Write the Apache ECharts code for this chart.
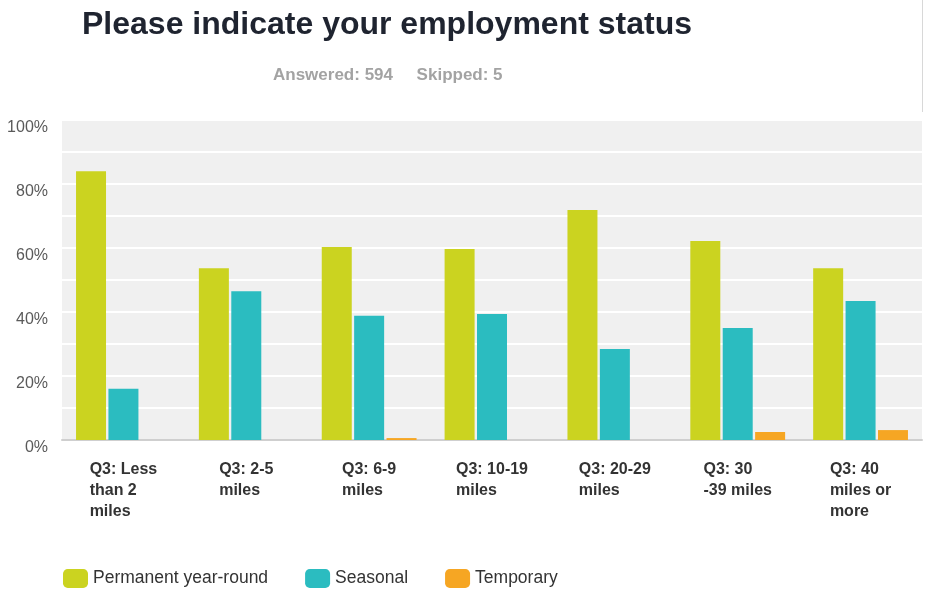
<!DOCTYPE html>
<html><head><meta charset="utf-8">
<script src="https://cdn.jsdelivr.net/npm/echarts@6/dist/echarts.min.js"></script>
<style>html,body{margin:0;padding:0;background:#fff;}#c{width:926px;height:593px;}</style>
</head><body><div id="c"></div>
<script>
const categories = [
  ['Q3: Less', 'than 2', 'miles'],
  ['Q3: 2-5', 'miles'],
  ['Q3: 6-9', 'miles'],
  ['Q3: 10-19', 'miles'],
  ['Q3: 20-29', 'miles'],
  ['Q3: 30', '-39 miles'],
  ['Q3: 40', 'miles or', 'more']
];
const permanent = [84.0, 53.7, 60.3, 59.7, 71.9, 62.2, 53.7];
const seasonal  = [16.0, 46.5, 38.8, 39.4, 28.4, 35.0, 43.4];
const temporary = [0, 0, 0.6, 0, 0, 2.5, 3.1];
const yTicks = [0, 20, 40, 60, 80, 100];

const chart = echarts.init(document.getElementById('c'));
const catNames = categories.map(c => c.join('\n'));
chart.setOption({
  animation: false,
  backgroundColor: '#ffffff',
  title: [{
    text: 'Please indicate your employment status',
    left: 77, top: 4,
    textStyle: {fontFamily: 'Liberation Sans, Arial', fontSize: 32, fontWeight: 'bold', color: '#1f2430'}
  }, {
    text: 'Answered: 594     Skipped: 5',
    left: 268, top: 62,
    textStyle: {fontFamily: 'Liberation Sans, Arial', fontSize: 17, fontWeight: 'bold', color: '#a3a3a3'}
  }],
  graphic: [{
    type: 'line', shape: {x1: 922.5, y1: 0, x2: 922.5, y2: 112},
    style: {stroke: '#d8d8d8', lineWidth: 1}
  }],
  legend: {
    left: 58, bottom: 0,
    itemWidth: 25, itemHeight: 19, itemGap: 37,
    icon: 'roundRect',
    textStyle: {fontFamily: 'Liberation Sans, Arial', fontSize: 17.5, color: '#333'},
    data: ['Permanent year-round', 'Seasonal', 'Temporary']
  },
  grid: {left: 62, right: 4, top: 120, bottom: 153, show: true, backgroundColor: '#f0f0f0', borderWidth: 0},
  xAxis: {
    type: 'category',
    data: catNames,
    axisLine: {show: true, lineStyle: {color: '#cfcfcf', width: 2}},
    axisTick: {show: false},
    axisLabel: {
      margin: 19,
      interval: 0,
      formatter: v => v.split('\n').map(l => '{a|' + l + '}').join('\n'),
      rich: {a: {fontFamily: 'Liberation Sans, Arial', fontSize: 16, fontWeight: 'bold', color: '#333', lineHeight: 21, align: 'left'}}
    }
  },
  yAxis: {
    type: 'value', min: 0, max: 100, interval: 20,
    axisLine: {show: false}, axisTick: {show: false},
    axisLabel: {margin: 14, verticalAlign: 'top', formatter: v => yTicks.includes(v) ? v + '%' : '', fontFamily: 'Liberation Sans, Arial', fontSize: 16, color: '#5a5a5a'},
    splitLine: {show: true, lineStyle: {color: '#ffffff', width: 2}},
    minorTick: {show: false, splitNumber: 2},
    minorSplitLine: {show: true, lineStyle: {color: '#ffffff', width: 2}}
  },
  series: [
    {name: 'Permanent year-round', type: 'bar', data: permanent, barWidth: 30, barGap: '8%', itemStyle: {color: '#cbd320'}},
    {name: 'Seasonal', type: 'bar', data: seasonal, barWidth: 30, barGap: '8%', itemStyle: {color: '#2bbcc0'}},
    {name: 'Temporary', type: 'bar', data: temporary, barWidth: 30, barGap: '8%', itemStyle: {color: '#f6a623'}}
  ]
});
</script></body></html>
